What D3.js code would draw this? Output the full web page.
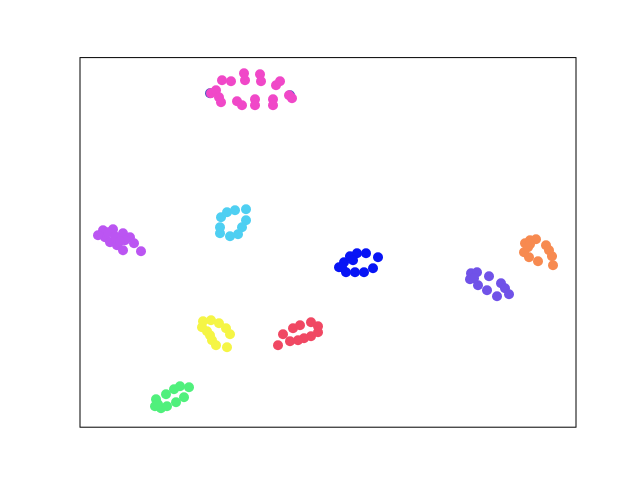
<!DOCTYPE html>
<html><head><meta charset="utf-8">
<script src="https://cdn.jsdelivr.net/npm/d3@7"></script>
<style>html,body{margin:0;padding:0;background:#fff;}</style>
</head><body>
<script>
// cluster labels and colours
const clusters = ["c0","c1","c2","c3","c4","c5","c6","c7","c8","c9"];
const colors = ["#4b55c0","#f048c8","#bb55f2","#4ecff2","#0814f5","#f78a50","#7052e8","#f5f545","#f04863","#50f07c"];
// x / y values per cluster (data units)
const xs = [
  [130,210],
  [131,136,142,151,164,165,180,181,196,200,139,141,157,162,175,175,193,193,209,212],
  [23,33,43,50,54,25,30,37,43,61,45,18,28,35,40],
  [141,147,155,166,166,162,158,150,140,140],
  [259,264,270,277,286,298,293,284,275,266,262,273],
  [445,450,456,466,469,472,473,458,449,444,448,450],
  [391,397,390,398,407,417,409,421,425,429,394],
  [122,123,131,139,146,150,130,132,136,147,127],
  [198,203,213,220,231,238,238,231,224,218,210],
  [76,75,81,87,96,104,109,100,94,86,78]
];
const ys = [
  [334,332],
  [334,337,347,346,354,347,353,346,342,346,330,325,326,322,328,322,328,322,332,329],
  [197,198,194,190,184,190,185,182,177,176,187,192,195,191,186],
  [210,215,217,218,207,200,193,191,194,200],
  [160,165,171,174,174,170,159,155,155,155,160,167],
  [184,187,188,182,177,171,162,166,170,175,180,183],
  [154,155,148,142,137,131,151,144,139,133,149],
  [100,106,107,104,99,93,92,87,82,80,96],
  [82,93,99,102,105,101,95,91,89,87,86],
  [28,21,19,21,25,30,40,41,38,33,23]
];

const W = 640, H = 480;
const svg = d3.select("body").append("svg").attr("width", W).attr("height", H);
const mL = 80, mR = 576, mT = 57.6, mB = 427.2;
const x = d3.scaleLinear().domain([0, 496]).range([mL, mR]);
const y = d3.scaleLinear().domain([0, 369.6]).range([mB, mT]);

const points = [];
clusters.forEach((c, i) => xs[i].forEach((v, j) => points.push({x: v, y: ys[i][j], c: colors[i]})));

svg.append("g").selectAll("circle").data(points).join("circle")
  .attr("cx", d => x(d.x)).attr("cy", d => y(d.y)).attr("r", 5)
  .attr("fill", d => d.c);

svg.append("rect").attr("x", mL).attr("y", mT)
  .attr("width", mR - mL).attr("height", mB - mT)
  .attr("fill", "none").attr("stroke", "#000").attr("stroke-width", 1);
</script>
</body></html>
